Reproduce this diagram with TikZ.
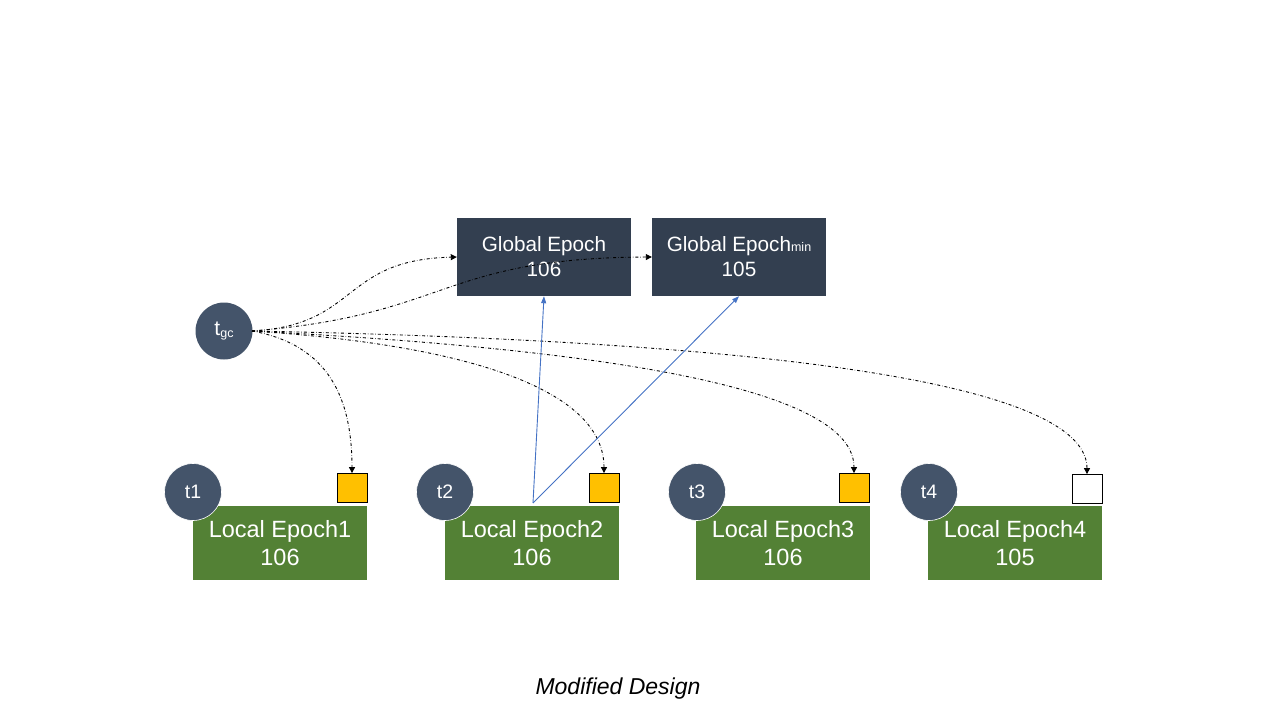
\documentclass[tikz,border=0pt]{standalone}
\usepackage{fontspec}
\setmainfont{Liberation Sans}
\usetikzlibrary{arrows.meta}
\definecolor{gbox}{HTML}{333F50}
\definecolor{circ}{HTML}{44546A}
\definecolor{lgreen}{HTML}{538135}
\definecolor{yel}{HTML}{FFC000}
\definecolor{blu}{HTML}{4472C4}
\tikzset{
  globalbox/.style={fill=gbox, text=white, minimum width=174pt, minimum height=78pt, inner sep=0pt, align=center, font=\fontsize{20.7}{25}\selectfont},
  localbox/.style={fill=lgreen, text=white, minimum width=174pt, minimum height=74pt, inner sep=0pt, align=center, font=\fontsize{23.5}{28}\selectfont},
  tcirc/.style={circle, fill=circ, draw=white, line width=0.6pt, minimum size=57pt, inner sep=0pt, text=white, font=\fontsize{19.5}{22}\selectfont},
  flag/.style={draw=black, line width=0.8pt, minimum width=30pt, minimum height=29pt, inner sep=0pt},
  ctl/.style={dash dot, line width=0.9pt, -{Triangle[width=6pt,length=6pt]}},
  bl/.style={blu, line width=0.9pt, -{Triangle[width=5pt,length=7pt]}}
}
\begin{document}
\begin{tikzpicture}[x=1pt,y=-1pt]
\useasboundingbox (0,0) rectangle (1280,720);
% global boxes
\node[globalbox] (ge) at (544,257) {Global Epoch\\106};
\node[globalbox] (gm) at (739,257) {Global Epoch{\fontsize{12.5}{12}\selectfont min}\\105};
% local boxes
\node[localbox] (l1) at (280,543) {Local Epoch1\\106};
\node[localbox] (l2) at (532,543) {Local Epoch2\\106};
\node[localbox] (l3) at (783,543) {Local Epoch3\\106};
\node[localbox] (l4) at (1015,543) {Local Epoch4\\105};
% circles
\node[tcirc] (t1) at (193,492) {t1};
\node[tcirc] (t2) at (445,492) {t2};
\node[tcirc] (t3) at (697,492) {t3};
\node[tcirc] (t4) at (929,492) {t4};
\node[tcirc, draw=none, font=\fontsize{21}{22}\selectfont] (tgc) at (224,331) {t\raisebox{-2pt}{\fontsize{12.5}{12}\selectfont gc}};
% flags
\node[flag, fill=yel] (s1) at (352,488) {};
\node[flag, fill=yel] (s2) at (604,488) {};
\node[flag, fill=yel] (s3) at (854,488) {};
\node[flag, fill=white] (s4) at (1087,489) {};
% dash-dot connectors
\coordinate (o) at (252,331);
\draw[ctl] (o) .. controls (360,325) and (340,260) .. (ge.west);
\draw[ctl] (o) .. controls (450,315) and (440,258) .. (gm.west);
\draw[ctl] (o) .. controls (330,345) and (352,400) .. (s1.north);
\draw[ctl] (o) .. controls (470,345) and (604,390) .. (s2.north);
\draw[ctl] (o) .. controls (620,350) and (854,390) .. (s3.north);
\draw[ctl] (o) .. controls (820,342) and (1087,390) .. (s4.north);
% blue connectors
\coordinate (src) at (533,503);
\draw[bl] (src) -- (ge.south);
\draw[bl] (src) -- (gm.south);
% caption
\node[font=\itshape\fontsize{23}{26}\selectfont] (cap) at (618,689) {Modified Design};
\end{tikzpicture}
\end{document}
